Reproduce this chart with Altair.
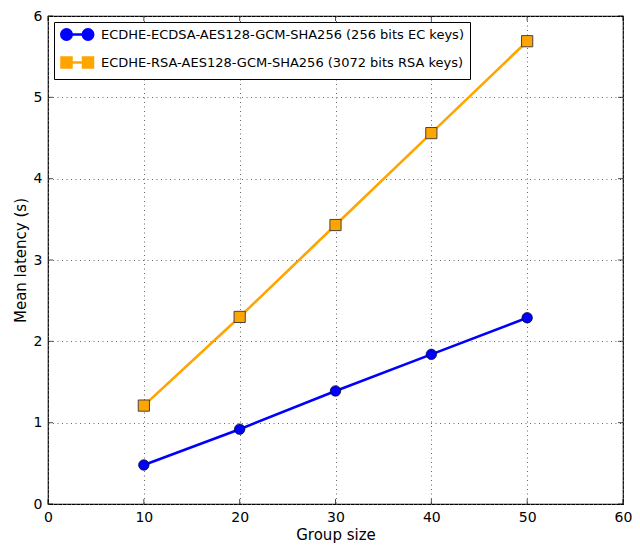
import altair as alt
import pandas as pd

# ---- data ----
group_size = [10, 20, 30, 40, 50]
ecdsa_latency = [0.48, 0.92, 1.39, 1.84, 2.29]
rsa_latency = [1.21, 2.30, 3.43, 4.56, 5.69]
series_names = [
    "ECDHE-ECDSA-AES128-GCM-SHA256 (256 bits EC keys)",
    "ECDHE-RSA-AES128-GCM-SHA256 (3072 bits RSA keys)",
]
series_colors = ["#0000ff", "#ffa500"]
x_ticks = [0, 10, 20, 30, 40, 50, 60]
y_ticks = [0, 1, 2, 3, 4, 5, 6]

FONT = "DejaVu Sans"

rows = []
for g, v in zip(group_size, ecdsa_latency):
    rows.append({"group": g, "latency": v, "series": series_names[0]})
for g, v in zip(group_size, rsa_latency):
    rows.append({"group": g, "latency": v, "series": series_names[1]})
df = pd.DataFrame(rows)


# ---- legend glyphs: two markers joined by a line (unit coords, scale = 5px) ----
def circle_path(cx, r):
    k = 0.5523 * r
    return (f"M{cx - r},0 C{cx - r},{-k} {cx - k},{-r} {cx},{-r} "
            f"C{cx + k},{-r} {cx + r},{-k} {cx + r},0 "
            f"C{cx + r},{k} {cx + k},{r} {cx},{r} "
            f"C{cx - k},{r} {cx - r},{k} {cx - r},0 Z")


def square_path(cx, h):
    return f"M{cx - h},{-h} L{cx + h},{-h} L{cx + h},{h} L{cx - h},{h} Z"


c2 = 4.3
circ_glyph = circle_path(0, 1.05) + f" M1.05,0 L{c2 - 1.05},0 " + circle_path(c2, 1.05)
sq_glyph = square_path(0, 1.0) + f" M1.0,0 L{c2 - 1.0},0 " + square_path(c2, 1.0)

x_scale = alt.Scale(domain=[0, 60], nice=False, zero=False)
y_scale = alt.Scale(domain=[0, 6], nice=False, zero=False)

axis_common = dict(grid=True, ticks=False, tickSize=0, domain=False, labelFlush=False,
                   labelOverlap=False, format="d")
x_axis = alt.Axis(values=x_ticks, title="Group size", labelPadding=6, titlePadding=3, **axis_common)
y_axis = alt.Axis(values=y_ticks, title="Mean latency (s)", labelPadding=6, titlePadding=5, **axis_common)

X = alt.X("group:Q", scale=x_scale, axis=x_axis)
Y = alt.Y("latency:Q", scale=y_scale, axis=y_axis)

base = alt.Chart(df)
ec = base.transform_filter(alt.datum.series == series_names[0])
rsa = base.transform_filter(alt.datum.series == series_names[1])

line_ec = ec.mark_line(strokeWidth=2.6, color=series_colors[0]).encode(x=X, y=Y)
line_rsa = rsa.mark_line(strokeWidth=2.6, color=series_colors[1]).encode(x=X, y=Y)

pts_ec = ec.mark_point(shape="circle", filled=True, size=110, fill=series_colors[0],
                       stroke="#000022", strokeWidth=0.7, opacity=1).encode(x=X, y=Y)
pts_rsa = rsa.mark_point(shape="square", filled=True, size=125, fill=series_colors[1],
                         stroke="#444444", strokeWidth=1.0, opacity=1).encode(x=X, y=Y)

# legend-only layer: no rows survive the filter, the explicit domains still give the entries
legend_layer = base.transform_filter(
    alt.datum.group < 0
).mark_point(filled=True, size=100).encode(
    x=X, y=Y,
    fill=alt.Fill("series:N", scale=alt.Scale(domain=series_names, range=series_colors),
                  legend=alt.Legend(title=None)),
    stroke=alt.Stroke("series:N", scale=alt.Scale(domain=series_names, range=series_colors),
                      legend=alt.Legend(title=None)),
    shape=alt.Shape("series:N", scale=alt.Scale(domain=series_names, range=[circ_glyph, sq_glyph]),
                    legend=alt.Legend(title=None)),
)

# inward ticks on the four sides, like the original frame
xt = pd.DataFrame({"t": x_ticks})
yt = pd.DataFrame({"t": y_ticks})
tick_x_bottom = alt.Chart(xt).mark_tick(orient="vertical", size=5, thickness=1, color="black", yOffset=-2.5).encode(
    x=alt.X("t:Q", scale=x_scale), y=alt.datum(0))
tick_x_top = alt.Chart(xt).mark_tick(orient="vertical", size=5, thickness=1, color="black", yOffset=2.5).encode(
    x=alt.X("t:Q", scale=x_scale), y=alt.datum(6))
tick_y_left = alt.Chart(yt).mark_tick(orient="horizontal", size=5, thickness=1, color="black", xOffset=2.5).encode(
    y=alt.Y("t:Q", scale=y_scale), x=alt.datum(0))
tick_y_right = alt.Chart(yt).mark_tick(orient="horizontal", size=5, thickness=1, color="black", xOffset=-2.5).encode(
    y=alt.Y("t:Q", scale=y_scale), x=alt.datum(60))

chart = alt.layer(
    line_ec, line_rsa, pts_ec, pts_rsa, legend_layer,
    tick_x_bottom, tick_x_top, tick_y_left, tick_y_right,
).properties(
    width=575, height=488,
    autosize=alt.AutoSizeParams(type="none"),
    padding={"left": 40, "top": 8, "right": 9, "bottom": 39},
).configure_view(
    stroke="black", strokeWidth=1.2, fill="white",
).configure_axis(
    labelFont=FONT, titleFont=FONT, labelFontSize=14, titleFontSize=15,
    labelColor="black", titleColor="black", titleFontWeight="normal",
    gridColor="#666666", gridDash=[1, 3.5], gridWidth=1, gridOpacity=1,
).configure_legend(
    orient="top-left", offset=6, padding=6,
    strokeColor="black", fillColor="white", cornerRadius=0,
    labelFont=FONT, labelFontSize=13, labelColor="black", labelLimit=600,
    symbolSize=100, symbolStrokeWidth=2.5, symbolOpacity=1, labelOffset=28,
    rowPadding=7,
)

chart.save("out.html", embed_options={"renderer": "svg", "actions": False})
